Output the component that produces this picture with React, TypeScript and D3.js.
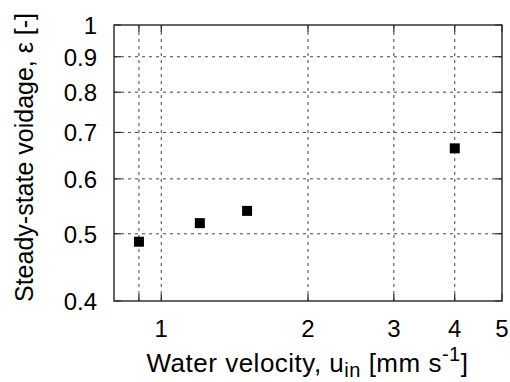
import React from "react";
import * as d3 from "d3";

const velocity = [0.9, 1.2, 1.5, 4.0];
const voidage = [0.487, 0.518, 0.5395, 0.664];
const xTicks = [0.9, 1, 2, 3, 4, 5];
const xTickLabels = ["", "1", "2", "3", "4", "5"];
const yTicks = [0.4, 0.5, 0.6, 0.7, 0.8, 0.9, 1];
const yTickLabels = ["0.4", "0.5", "0.6", "0.7", "0.8", "0.9", "1"];
const xGrid = [0.9, 1, 2, 3, 4];
const yGrid = [0.5, 0.6, 0.7, 0.8, 0.9];

export default function App() {
  const W = 510, H = 382;
  const left = 114, right = 502, top = 25, bottom = 301;
  const x = d3.scaleLog().domain([0.8, 5]).range([left, right]);
  const y = d3.scaleLog().domain([0.4, 1]).range([bottom, top]);
  const font = "Arimo, 'Liberation Sans', Arial, sans-serif";
  const tl = 7;
  return (
    <svg width={W} height={H} style={{ position: "absolute", left: 0, top: 0, background: "#fff" }} fontFamily={font}>
      {xGrid.map((v, i) => (
        <line key={"xg" + i} x1={x(v)} x2={x(v)} y1={top} y2={bottom} stroke="#444" strokeWidth={1} strokeDasharray="3,4" />
      ))}
      {yGrid.map((v, i) => (
        <line key={"yg" + i} x1={left} x2={right} y1={y(v)} y2={y(v)} stroke="#444" strokeWidth={1} strokeDasharray="3,4" />
      ))}
      {xTicks.map((v, i) => (
        <g key={"xt" + i}>
          <line x1={x(v)} x2={x(v)} y1={bottom} y2={bottom - tl} stroke="#222" strokeWidth={1.2} />
          <line x1={x(v)} x2={x(v)} y1={top} y2={top + tl} stroke="#222" strokeWidth={1.2} />
          <text x={x(v)} y={337} textAnchor="middle" fontSize={24} fill="#000">{xTickLabels[i]}</text>
        </g>
      ))}
      {yTicks.map((v, i) => (
        <g key={"yt" + i}>
          <line x1={left} x2={left + tl} y1={y(v)} y2={y(v)} stroke="#222" strokeWidth={1.2} />
          <line x1={right} x2={right - tl} y1={y(v)} y2={y(v)} stroke="#222" strokeWidth={1.2} />
          <text x={97} y={y(v) + 9} textAnchor="end" fontSize={24} fill="#000">{yTickLabels[i]}</text>
        </g>
      ))}
      <rect x={left} y={top} width={right - left} height={bottom - top} fill="none" stroke="#333" strokeWidth={1.5} />
      {velocity.map((v, i) => (
        <rect key={"p" + i} x={x(v) - 5} y={y(voidage[i]) - 5} width={10} height={10} fill="#000" />
      ))}
      <text x={(152 + 463) / 2} y={372} textAnchor="middle" fontSize={26} letterSpacing={0.5} fill="#000">
        Water velocity, u<tspan fontSize={20} dy={5}>in</tspan><tspan dy={-5}> [mm s</tspan><tspan fontSize={20} dy={-11}>-1</tspan><tspan dy={11}>]</tspan>
      </text>
      <text transform={`translate(33,157.5) rotate(-90)`} textAnchor="middle" fontSize={25} fill="#000">
        Steady-state voidage, ε [-]
      </text>
    </svg>
  );
}
